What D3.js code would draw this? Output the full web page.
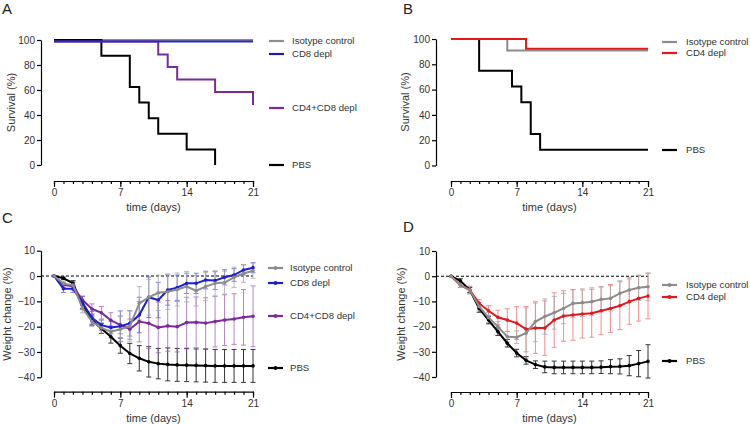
<!DOCTYPE html>
<html lang="en">
<head>
<meta charset="UTF-8">
<title>Survival and weight change</title>
<script src="https://cdnjs.cloudflare.com/ajax/libs/d3/7.8.5/d3.min.js"></script>
<style>
  * { margin: 0; padding: 0; }
  body { background: #fff; }
  svg { display: block; font-family: "Liberation Sans", Arial, sans-serif; }
  .axis path, .axis line { stroke: #000; stroke-width: 1.2; }
  .axis text { font-size: 10px; fill: #333; }
  .title { font-size: 11px; fill: #333; }
  .leg { font-size: 9.6px; fill: #333; }
  .panel-label { font-size: 15px; fill: #222; }
</style>
</head>
<body>
<div id="chart"></div>
<script>
// ---- data ----
var days = [0,1,2,3,4,5,6,7,8,9,10,11,12,13,14,15,16,17,18,19,20,21];
var dayTicks = [0,7,14,21];
var survTicks = [0,20,40,60,80,100];
var weightTicks = [-40,-30,-20,-10,0,10];

// survival, panel A (step points: time, percent)
var survA_isoT = [0,21],                 survA_isoV = [100,100];
var survA_cd8T = [0,21],                 survA_cd8V = [98.8,98.8];
var survA_dblT = [0,11,12,13,17,21],     survA_dblV = [98.8,88.5,78.5,68.5,58.5,48];
var survA_pbsT = [0,5,8,9,10,11,14,17],  survA_pbsV = [100,87.5,62.5,50,37.5,25,12.5,0];

// survival, panel B
var survB_isoT = [0,6,21],               survB_isoV = [100,91,91];
var survB_cd4T = [0,8,21],               survB_cd4V = [100,92.3,92.3];
var survB_pbsT = [0,3,6.5,7.5,8.5,9.5,21], survB_pbsV = [100,75,62.5,50,25,12.5,12.5];

// weight change, panel C (mean, error)
var wC_iso = [0,-3,-3.6,-12.5,-18,-20.5,-22,-21,-19.8,-10.8,-8.4,-6.6,-6.2,-5.3,-4.2,-5.8,-4.2,-2.9,-2.6,-0.5,1,2.1];
var eC_iso = [0,1,1.5,2,2,2,2.5,5,6,6.6,7,7,7,6.5,6,6,5.5,5,4.5,4,3.5,3];
var wC_cd8 = [0,-5,-5,-10.5,-16.5,-19.4,-20.3,-19.8,-18.7,-15.4,-8.4,-9.5,-5.5,-4.6,-2.9,-2.9,-1.6,-1.8,-0.5,0.4,2.4,3.3];
var eC_cd8 = [0,1.5,1.5,2.5,2.5,2,2.5,6,5,7,8,7,6,5,4,4,3.5,3.5,3,2.5,2,2];
var wC_dbl = [0,-3.5,-4,-9.5,-13,-14.5,-17.5,-19.3,-21,-18,-18.7,-20.3,-19.7,-20,-18.4,-18.3,-18.6,-18,-17.4,-17,-16.3,-15.9];
var eC_dbl = [0,1,1.5,1.5,2,2.5,3,3.5,4,8,10,10,10,10,10,10,10,10,10,10,11,12];
var wC_pbs = [0,-0.9,-2.8,-11.5,-17.4,-20.7,-24,-27.5,-30.6,-32.5,-33.9,-34.6,-34.9,-35.1,-35.2,-35.3,-35.4,-35.5,-35.5,-35.5,-35.5,-35.5];
var eC_pbs = [0,0.5,1,1.5,2,2,2.5,3,4,5,6,6,6.5,6.5,6.5,6.5,6.5,6.5,6.5,6.5,6.5,6.5];

// weight change, panel D
var wD_iso = [0,-3.5,-5.5,-12,-16.4,-20,-24,-24.2,-22.6,-18,-16,-14.5,-12.8,-10.8,-10.5,-10.1,-9.2,-8.8,-6.8,-5.5,-4.6,-4.2];
var eD_iso = [0,1,1.5,1.5,2,2,2,2.5,10,8,7,6.5,6,5.5,5.5,5.5,5,5,5,5,5,5.5];
var wD_cd4 = [0,-3.5,-5.5,-10.8,-13.7,-16.3,-17.4,-18.6,-21,-20.6,-20.6,-17.4,-15.8,-15.4,-15,-14.7,-13.7,-12.8,-11.7,-10.1,-8.8,-7.9];
var eD_cd4 = [0,1,1.5,1.5,2,2.8,4.5,6.5,9,10,10.8,10.8,10,10,9.5,9.5,9.5,9.5,9.5,9,9,9];
var wD_pbs = [0,-1.8,-5.5,-12.8,-17.4,-22,-26.6,-30.5,-33.4,-35.1,-36,-36.2,-36.2,-36.2,-36.2,-36.2,-36.1,-35.9,-35.8,-35.5,-34.7,-33.8];
var eD_pbs = [0,0.8,1,1.5,1.5,1.5,1.5,1.5,1.5,1.5,2.3,2.5,2.5,2.5,2.5,2.5,2.5,2.8,3,4,5.2,6.6];

var GRAY = '#8c8c8c', BLUE = '#1f1fd2', PURPLE = '#7b2a9c', RED = '#e3181d', BLACK = '#000';

// ---- drawing ----
var svg = d3.select('#chart').append('svg').attr('width', 750).attr('height', 424);

function xAxis(g, x, yPos) {
  var minor = d3.axisBottom(x).tickValues(days).tickSize(3).tickSizeOuter(0).tickFormat('');
  var major = d3.axisBottom(x).tickValues(dayTicks).tickSize(6).tickSizeOuter(0).tickPadding(2);
  g.append('g').attr('class', 'axis').attr('transform', 'translate(0,' + yPos + ')').call(minor);
  g.append('g').attr('class', 'axis').attr('transform', 'translate(0,' + yPos + ')').call(major)
    .select('.domain').remove();
}

function yAxis(g, y, xPos, ticks) {
  g.append('g').attr('class', 'axis').attr('transform', 'translate(' + xPos + ',0)')
    .call(d3.axisLeft(y).tickValues(ticks).tickSize(4).tickSizeOuter(0).tickPadding(2));
}

function titles(g, p) {
  g.append('text').attr('class', 'panel-label').attr('x', p.lx).attr('y', p.ly).text(p.label);
  g.append('text').attr('class', 'title')
    .attr('transform', 'translate(' + p.ytx + ',' + p.yty + ') rotate(-90)')
    .attr('text-anchor', 'middle').attr('dy', '0.35em').text(p.ytitle);
  g.append('text').attr('class', 'title').attr('x', (p.x0 + p.x1) / 2).attr('y', p.xty)
    .attr('text-anchor', 'middle').text('time (days)');
}

function legend(g, items, lx, tx, markers) {
  items.forEach(function(it) {
    g.append('line').attr('x1', lx).attr('x2', lx + 15).attr('y1', it.y).attr('y2', it.y)
      .attr('stroke', it.color).attr('stroke-width', 2.2);
    if (markers) g.append('circle').attr('cx', lx + 7.5).attr('cy', it.y).attr('r', 2).attr('fill', it.color);
    g.append('text').attr('class', 'leg').attr('x', tx).attr('y', it.y).attr('dy', '0.35em').text(it.name);
  });
}

function survivalPanel(p) {
  var g = svg.append('g');
  var x = d3.scaleLinear().domain([0, 21]).range([p.x0, p.x1]);
  var y = d3.scaleLinear().domain([0, 100]).range([p.yb, p.yt]);
  var line = d3.line().x(function(d) { return x(d[0]); }).y(function(d) { return y(d[1]); })
    .curve(d3.curveStepAfter);
  p.series.forEach(function(s) {
    g.append('path').attr('d', line(d3.zip(s.t, s.v))).attr('fill', 'none')
      .attr('stroke', s.color).attr('stroke-width', 2);
  });
  yAxis(g, y, p.ax, survTicks);
  xAxis(g, x, p.xAxisY);
  titles(g, p);
  legend(g, p.legend, p.legX, p.legT, false);
}

function weightPanel(p) {
  var g = svg.append('g');
  var x = d3.scaleLinear().domain([0, 21]).range([p.x0, p.x1]);
  var y = d3.scaleLinear().domain([-40, 10]).range([p.yb, p.yt]);
  g.append('line').attr('x1', p.ax).attr('x2', x(21)).attr('y1', y(0)).attr('y2', y(0))
    .attr('stroke', '#000').attr('stroke-width', 1.1).attr('stroke-dasharray', '3,2');
  var line = d3.line().x(function(d, i) { return x(days[i]); }).y(function(d) { return y(d); });
  // error bars
  p.series.forEach(function(s) {
    var eb = g.append('g').attr('stroke', s.ecolor).attr('stroke-width', 1).attr('opacity', s.eop);
    s.w.forEach(function(m, i) {
      var e = s.e[i];
      if (!e) return;
      var cx = x(days[i]);
      eb.append('line').attr('x1', cx).attr('x2', cx).attr('y1', y(m + e)).attr('y2', y(m - e));
      eb.append('line').attr('x1', cx - 2.5).attr('x2', cx + 2.5).attr('y1', y(m + e)).attr('y2', y(m + e));
      eb.append('line').attr('x1', cx - 2.5).attr('x2', cx + 2.5).attr('y1', y(m - e)).attr('y2', y(m - e));
    });
  });
  p.series.forEach(function(s) {
    g.append('path').attr('d', line(s.w)).attr('fill', 'none')
      .attr('stroke', s.color).attr('stroke-width', 2);
    g.selectAll(null).data(s.w).enter().append('circle')
      .attr('cx', function(d, i) { return x(days[i]); }).attr('cy', function(d) { return y(d); })
      .attr('r', 1.8).attr('fill', s.color);
  });
  yAxis(g, y, p.ax, weightTicks);
  xAxis(g, x, p.xAxisY);
  titles(g, p);
  legend(g, p.legend, p.legX, p.legT, true);
}

survivalPanel({
  label: 'A', lx: 2, ly: 14, ytitle: 'Survival (%)', ytx: 11, yty: 102.5, xty: 211,
  x0: 54, x1: 253, yt: 40, yb: 165, ax: 41, xAxisY: 181,
  series: [
    { t: survA_isoT, v: survA_isoV, color: GRAY },
    { t: survA_pbsT, v: survA_pbsV, color: BLACK },
    { t: survA_dblT, v: survA_dblV, color: PURPLE },
    { t: survA_cd8T, v: survA_cd8V, color: '#2a2ac4' }
  ],
  legX: 269, legT: 292,
  legend: [
    { name: 'Isotype control', color: GRAY, y: 41 },
    { name: 'CD8 depl', color: '#1c1caa', y: 54 },
    { name: 'CD4+CD8 depl', color: PURPLE, y: 108 },
    { name: 'PBS', color: BLACK, y: 165 }
  ]
});

survivalPanel({
  label: 'B', lx: 403, ly: 14, ytitle: 'Survival (%)', ytx: 405.5, yty: 102, xty: 211,
  x0: 451, x1: 648, yt: 39, yb: 165.5, ax: 436, xAxisY: 181,
  series: [
    { t: survB_pbsT, v: survB_pbsV, color: BLACK },
    { t: survB_isoT, v: survB_isoV, color: GRAY },
    { t: survB_cd4T, v: survB_cd4V, color: RED }
  ],
  legX: 662, legT: 686,
  legend: [
    { name: 'Isotype control', color: GRAY, y: 42 },
    { name: 'CD4 depl', color: RED, y: 53 },
    { name: 'PBS', color: BLACK, y: 150 }
  ]
});

weightPanel({
  label: 'C', lx: 2, ly: 223, ytitle: 'Weight change (%)', ytx: 7, yty: 314, xty: 422,
  x0: 54, x1: 253, yt: 250.7, yb: 377.3, ax: 41, xAxisY: 391.7,
  series: [
    { w: wC_pbs, e: eC_pbs, color: BLACK, ecolor: '#111', eop: 0.85 },
    { w: wC_dbl, e: eC_dbl, color: PURPLE, ecolor: '#9a5cba', eop: 0.75 },
    { w: wC_cd8, e: eC_cd8, color: BLUE, ecolor: '#4a4ae0', eop: 0.7 },
    { w: wC_iso, e: eC_iso, color: GRAY, ecolor: '#aaaaaa', eop: 0.8 }
  ],
  legX: 268, legT: 290,
  legend: [
    { name: 'Isotype control', color: GRAY, y: 268 },
    { name: 'CD8 depl', color: BLUE, y: 283 },
    { name: 'CD4+CD8 depl', color: PURPLE, y: 316 },
    { name: 'PBS', color: BLACK, y: 368 }
  ]
});

weightPanel({
  label: 'D', lx: 403, ly: 232, ytitle: 'Weight change (%)', ytx: 401, yty: 314, xty: 422,
  x0: 451, x1: 648, yt: 251, yb: 377, ax: 436, xAxisY: 392,
  series: [
    { w: wD_pbs, e: eD_pbs, color: BLACK, ecolor: '#111', eop: 0.85 },
    { w: wD_cd4, e: eD_cd4, color: RED, ecolor: '#ee6a6a', eop: 0.75 },
    { w: wD_iso, e: eD_iso, color: GRAY, ecolor: '#aaaaaa', eop: 0.8 }
  ],
  legX: 662, legT: 686,
  legend: [
    { name: 'Isotype control', color: GRAY, y: 285 },
    { name: 'CD4 depl', color: RED, y: 297 },
    { name: 'PBS', color: BLACK, y: 361 }
  ]
});
</script>
</body>
</html>
